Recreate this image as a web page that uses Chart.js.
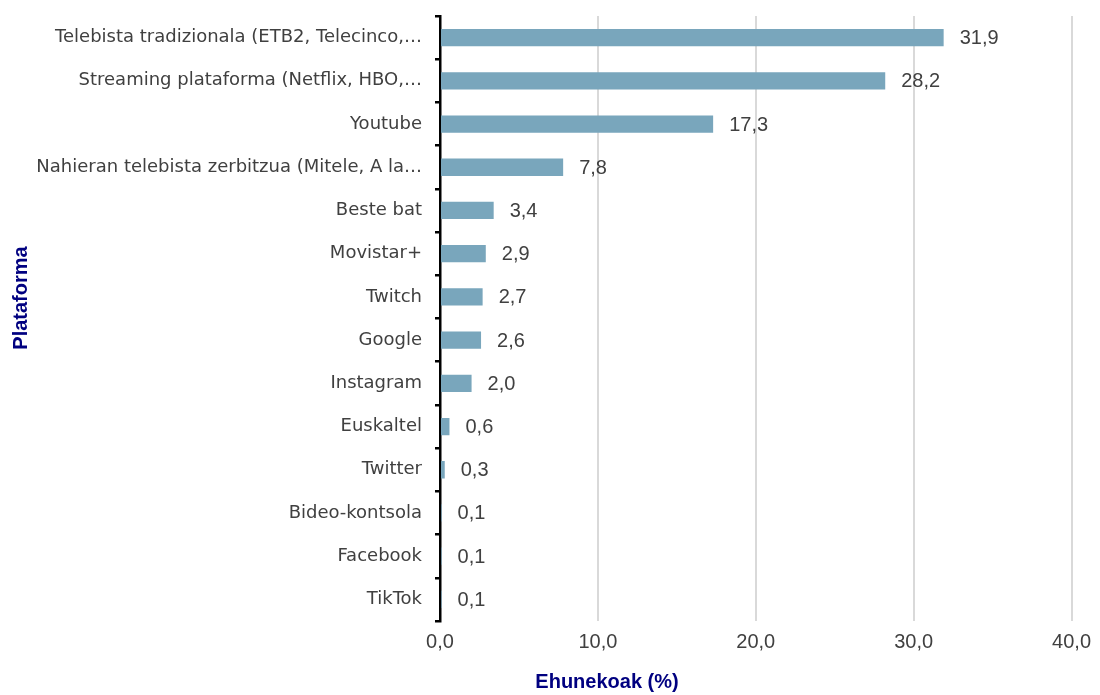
<!DOCTYPE html>
<html>
<head>
<meta charset="utf-8">
<script src="https://cdn.jsdelivr.net/npm/chart.js@4"></script>
<style>
  html, body { margin: 0; padding: 0; background: #ffffff; }
  #wrap { width: 1100px; height: 695px; position: relative; }
</style>
</head>
<body>
<div id="wrap"><canvas id="platchart"></canvas></div>
<script>
// data
const categories = [
    "Telebista tradizionala (ETB2, Telecinco,\u2026",
    "Streaming plataforma (Netflix, HBO,\u2026",
    "Youtube",
    "Nahieran telebista zerbitzua (Mitele, A la\u2026",
    "Beste bat",
    "Movistar+",
    "Twitch",
    "Google",
    "Instagram",
    "Euskaltel",
    "Twitter",
    "Bideo-kontsola",
    "Facebook",
    "TikTok"
];
const percents = [31.9, 28.2, 17.3, 7.8, 3.4, 2.9, 2.7, 2.6, 2.0, 0.6, 0.3, 0.1, 0.1, 0.1];
const xTicks = [0, 10, 20, 30, 40];

const xTitle = "Ehunekoak (%)";
const yTitle = "Plataforma";

const barColor = '#79a6bc';
const textGray = '#404040';
const titleBlue = '#000080';

function comma(v, d) {
    return v.toFixed(d).replace('.', ',');
}

// value labels at the end of each bar
const barLabels = {
    id: 'barLabels',
    afterDatasetsDraw(chart) {
        const ctx = chart.ctx;
        const meta = chart.getDatasetMeta(0);
        ctx.save();
        ctx.font = '20px "Liberation Sans", Arial, sans-serif';
        ctx.fillStyle = textGray;
        ctx.textAlign = 'left';
        ctx.textBaseline = 'middle';
        meta.data.forEach(function(bar, i) {
            ctx.fillText(comma(percents[i], 1), bar.x + 16, bar.y + 1);
        });
        ctx.restore();
    }
};

// axis titles
const axisTitles = {
    id: 'axisTitles',
    afterDraw(chart) {
        const ctx = chart.ctx;
        ctx.save();
        ctx.font = 'bold 20px "Liberation Sans", Arial, sans-serif';
        ctx.fillStyle = titleBlue;
        ctx.textAlign = 'center';
        ctx.textBaseline = 'middle';
        ctx.fillText(xTitle, 607, 682);
        ctx.translate(21, 298);
        ctx.rotate(-Math.PI / 2);
        ctx.fillText(yTitle, 0, 0);
        ctx.restore();
    }
};

new Chart(document.getElementById('platchart'), {
    type: 'bar',
    data: {
        labels: categories,
        datasets: [{
            data: percents,
            backgroundColor: barColor,
            borderWidth: 0,
            categoryPercentage: 1.0,
            barPercentage: 0.4
        }]
    },
    options: {
        indexAxis: 'y',
        responsive: true,
        maintainAspectRatio: false,
        animation: false,
        layout: { padding: { top: 16, right: 16, left: 0, bottom: 0 } },
        plugins: {
            legend: { display: false },
            tooltip: { enabled: false }
        },
        scales: {
            x: {
                min: 0,
                max: 40,
                afterBuildTicks(scale) {
                    scale.ticks = xTicks.map(v => ({ value: v }));
                },
                afterFit(scale) { scale.height = 74; },
                grid: {
                    color: '#d9d9d9',
                    lineWidth: 2,
                    drawTicks: false
                },
                border: { display: false },
                ticks: {
                    padding: 9,
                    color: textGray,
                    font: { family: '"Liberation Sans", Arial, sans-serif', size: 20 },
                    callback: function(v) { return comma(v, 1); }
                }
            },
            y: {
                afterFit(scale) {
                    scale.width = 440;
                    scale.paddingTop = 0;
                    scale.paddingBottom = 0;
                },
                grid: {
                    offset: true,
                    drawOnChartArea: false,
                    color: '#000000',
                    lineWidth: 2.5,
                    tickLength: 5
                },
                border: { display: true, color: '#000000', width: 2.5 },
                ticks: {
                    padding: 13,
                    color: textGray,
                    font: { family: '"DejaVu Sans", Verdana, sans-serif', size: 18 }
                }
            }
        }
    },
    plugins: [barLabels, axisTitles]
});
</script>
</body>
</html>
